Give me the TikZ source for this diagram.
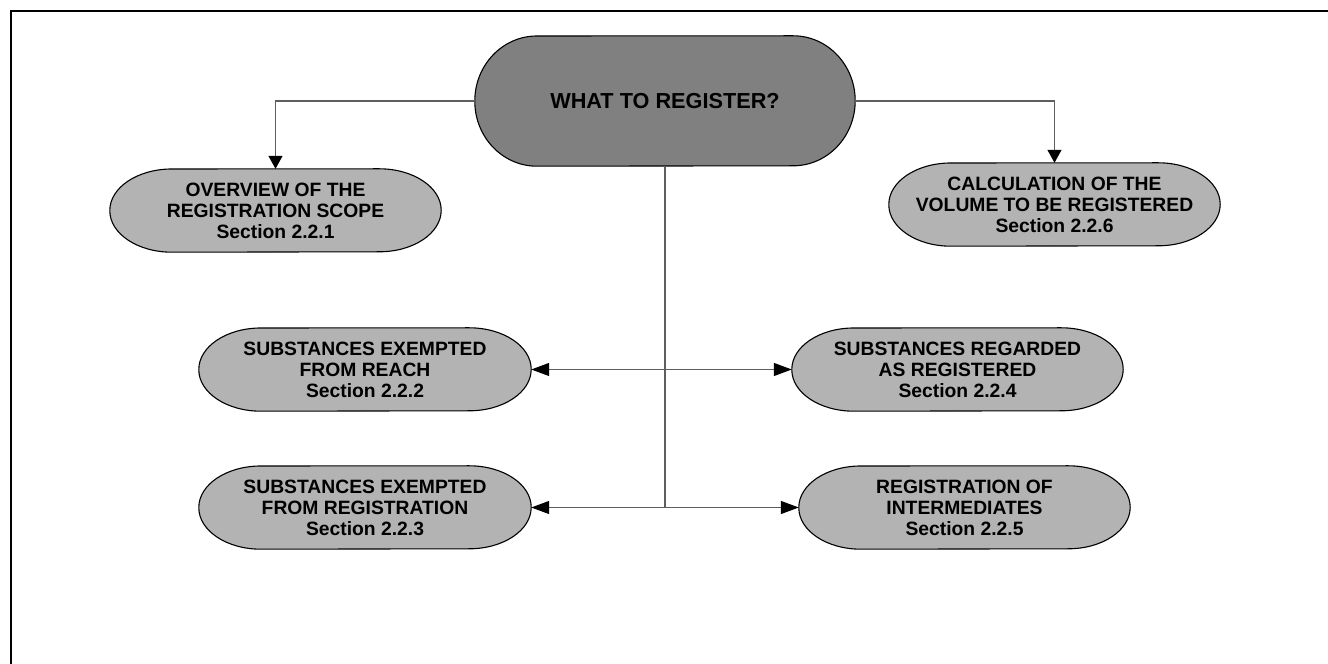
\documentclass[tikz,border=0pt]{standalone}
\usepackage{fontspec}
\setmainfont{Liberation Sans}
\usetikzlibrary{arrows.meta,backgrounds}
\definecolor{darkfill}{HTML}{808080}
\definecolor{lightfill}{HTML}{B3B3B3}
\definecolor{linegray}{HTML}{5E5E5E}
\tikzset{
  termbox/.style={draw=none, inner sep=0pt, align=center,
    minimum width=331pt, minimum height=83pt,
    font=\fontsize{19.3}{21}\selectfont\bfseries},
  mainbox/.style={draw=none, inner sep=0pt, align=center,
    minimum width=380pt, minimum height=130pt,
    font=\fontsize{21.7}{26}\selectfont\bfseries},
  shapeline/.style={draw=black, line width=1.1pt},
  conn/.style={draw=linegray, line width=1.2pt},
  vtip/.style={-{Triangle[length=13pt,width=14pt,color=black]}},
  htips/.style={{Triangle[length=18pt,width=13pt,color=black]}-{Triangle[length=18pt,width=13pt,color=black]}},
}
\newcommand\termbg[4]{%
  \path[shapeline, fill=#2] (#1.west)
    arc[start angle=180, end angle=90, x radius=#3, y radius=#4]
    -- ([xshift=-#3]#1.north east)
    arc[start angle=90, end angle=-90, x radius=#3, y radius=#4]
    -- ([xshift=#3]#1.south west)
    arc[start angle=270, end angle=180, x radius=#3, y radius=#4]
    -- cycle;}
\begin{document}
\begin{tikzpicture}[x=1pt,y=1pt]
\useasboundingbox (0,0) rectangle (1328,664);
% frame
\draw[line width=2pt] (10.5,0) -- (10.5,653) -- (1328,653);
% nodes
\node[mainbox] (main) at (665,563) {WHAT TO REGISTER?};
\node[termbox] (ov) at (275.5,453.5) {OVERVIEW OF THE\\REGISTRATION SCOPE\\Section 2.2.1};
\node[termbox] (calc) at (1054.5,459.5) {CALCULATION OF THE\\VOLUME TO BE REGISTERED\\Section 2.2.6};
\node[termbox, minimum width=332pt] (reach) at (365,294.5) {SUBSTANCES EXEMPTED\\FROM REACH\\Section 2.2.2};
\node[termbox] (regd) at (957.5,294.5) {SUBSTANCES REGARDED\\AS REGISTERED\\Section 2.2.4};
\node[termbox, minimum width=332pt] (exreg) at (365,156.5) {SUBSTANCES EXEMPTED\\FROM REGISTRATION\\Section 2.2.3};
\node[termbox] (inter) at (964.5,156.5) {REGISTRATION OF\\INTERMEDIATES\\Section 2.2.5};
\begin{scope}[on background layer]
  \termbg{main}{darkfill}{62pt}{65pt}
  \termbg{ov}{lightfill}{62pt}{41.5pt}
  \termbg{calc}{lightfill}{62pt}{41.5pt}
  \termbg{reach}{lightfill}{62pt}{41.5pt}
  \termbg{regd}{lightfill}{62pt}{41.5pt}
  \termbg{exreg}{lightfill}{62pt}{41.5pt}
  \termbg{inter}{lightfill}{62pt}{41.5pt}
  % connectors
  \coordinate (trunk) at (main.south |- exreg.east);
  \draw[conn] (main.south) -- (trunk);
\end{scope}
\draw[conn, vtip] (main.west) -| (ov.north);
\draw[conn, vtip] (main.east) -| (calc.north);
\draw[conn, htips] (reach.east) -- (regd.west);
\draw[conn, htips] (exreg.east) -- (inter.west);
\end{tikzpicture}
\end{document}
